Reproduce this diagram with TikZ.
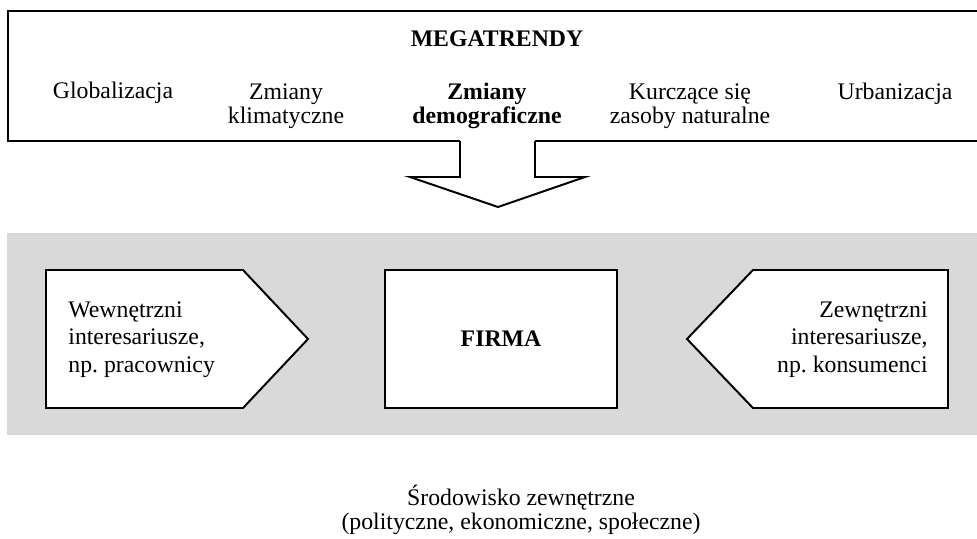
\documentclass[tikz,border=0pt]{standalone}
\usepackage{fontspec}
\setmainfont{Liberation Serif}
\newcommand\mylines[2]{\begin{tabular}[t]{@{}#1@{}}#2\end{tabular}}
\definecolor{bandgray}{HTML}{D9D9D9}
\begin{document}
\begin{tikzpicture}[x=0.505pt,y={(0pt,-0.505pt)},
  txt/.style={inner sep=0pt, anchor=base, font=\fontsize{12}{12.2}\selectfont},
  stk/.style={inner sep=0pt, anchor=base, font=\fontsize{12}{13.9}\selectfont},
  boxline/.style={draw=black, line width=1.4pt, line join=miter},
  shapeline/.style={draw=black, fill=white, line width=1pt, line join=miter}]
\useasboundingbox (0,0) rectangle (977,538);
% gray band
\fill[bandgray] (7,233) rectangle (995,435);
% top box with opening for the arrow
\draw[boxline] (460,141) -- (8,141) -- (8,11) -- (995,11);
\draw[boxline] (995,141) -- (535,141);
% arrow
\draw[shapeline] (460,141) -- (460,177) -- (410,177) -- (498,207) -- (585,177) -- (535,177) -- (535,141);
% texts of the top box
\node[txt] (mega) at (497,46) {\bfseries MEGATRENDY};
\node[txt] (glob) at (113,98) {Globalizacja};
\node[txt] (klim) at (286,99) {\mylines{c}{Zmiany\\klimatyczne}};
\node[txt] (demo) at (487,99) {\mylines{c}{\bfseries Zmiany\\\bfseries demograficzne}};
\node[txt] (kurcz) at (690,99) {\mylines{c}{Kurczące się\\zasoby naturalne}};
\node[txt] (urban) at (895,99) {Urbanizacja};
% shapes in the band
\draw[shapeline] (46,270) -- (243,270) -- (308,339) -- (243,408) -- (46,408) -- cycle;
\draw[shapeline] (385,270) rectangle (617,408);
\draw[shapeline] (687,339) -- (753,270) -- (948,270) -- (948,408) -- (753,408) -- cycle;
\node[stk, anchor=base west] (wew) at (68,317) {\mylines{l}{Wewnętrzni\\interesariusze,\\np.\ pracownicy}};
\node[txt] (firma) at (501,346) {\bfseries FIRMA};
\node[stk, anchor=base east] (zew) at (928,317) {\mylines{r}{Zewnętrzni\\interesariusze,\\np.\ konsumenci}};
% bottom text
\node[txt, font=\fontsize{12}{12.6}\selectfont] (srod) at (521,505) {\mylines{c}{Środowisko zewnętrzne\\(polityczne, ekonomiczne, społeczne)}};
\end{tikzpicture}
\end{document}
